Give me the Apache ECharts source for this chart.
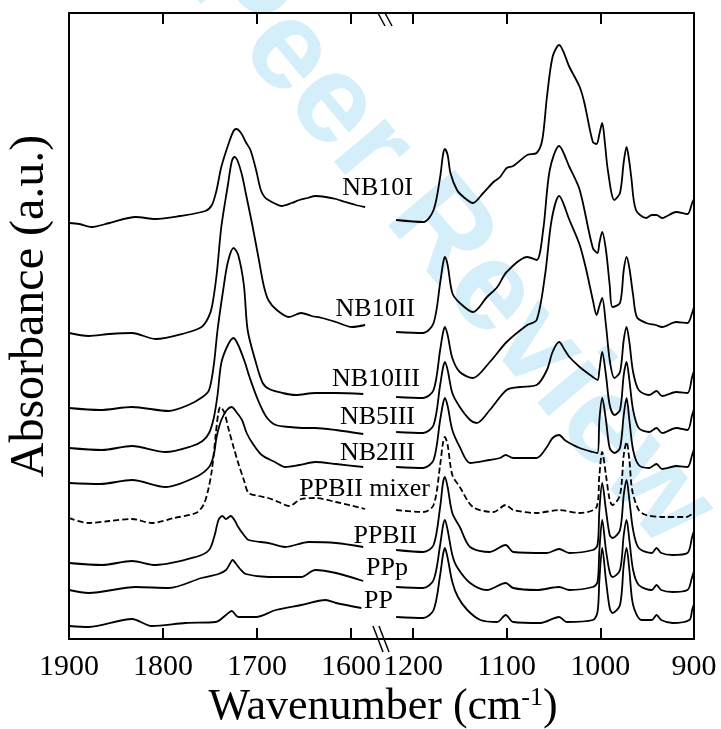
<!DOCTYPE html>
<html>
<head>
<meta charset="utf-8">
<script src="https://cdn.jsdelivr.net/npm/echarts@6/dist/echarts.min.js"></script>
<style>
  html, body { margin: 0; padding: 0; background: #fff; }
  #spectra { width: 721px; height: 729px; }
</style>
</head>
<body>
<div id="spectra"></div>
<script>
// wavenumber (cm-1), absorbance (a.u., stacked)
const nb10iLeft = [[1900,4.16],[1889,4.15],[1876,4.12],[1857,4.16],[1829,4.22],[1808,4.20],[1782,4.23],[1755,4.28],[1748,4.34],[1743,4.49],[1738,4.72],[1730,4.96],[1725,5.08],[1722,5.10],[1717,5.06],[1712,4.97],[1707,4.89],[1701,4.69],[1696,4.49],[1692,4.42],[1688,4.39],[1680,4.35],[1674,4.33],[1663,4.36],[1655,4.39],[1646,4.41],[1638,4.43],[1627,4.42],[1616,4.40],[1606,4.37],[1595,4.34],[1585,4.32]]
const nb10iRight = [[1218,4.19],[1189,4.17],[1178,4.29],[1171,4.62],[1168,4.84],[1166,4.90],[1163,4.84],[1160,4.66],[1153,4.49],[1146,4.42],[1136,4.36],[1125,4.46],[1114,4.57],[1107,4.62],[1100,4.71],[1093,4.73],[1078,4.84],[1068,4.86],[1062,4.99],[1057,5.42],[1051,5.82],[1044,5.94],[1033,5.72],[1022,5.52],[1017,5.36],[1008,4.97],[1004,4.95],[1001,5.05],[998,5.16],[995,4.95],[992,4.69],[985,4.39],[979,4.46],[975,4.77],[972,4.92],[969,4.77],[967,4.62],[962,4.29],[951,4.21],[945,4.24],[940,4.24],[934,4.21],[919,4.27],[907,4.25],[902,4.36],[900,4.40]]

const nb10iiLeft = [[1900,3.06],[1879,3.03],[1857,3.05],[1833,3.06],[1808,3.00],[1776,3.06],[1759,3.12],[1752,3.21],[1748,3.32],[1743,3.64],[1738,4.12],[1731,4.54],[1727,4.77],[1724,4.82],[1721,4.79],[1716,4.64],[1712,4.46],[1705,4.14],[1698,3.79],[1693,3.54],[1688,3.39],[1679,3.29],[1666,3.22],[1653,3.26],[1642,3.23],[1631,3.21],[1616,3.17],[1599,3.12],[1585,3.14]]
const nb10iiRight = [[1218,3.07],[1189,3.06],[1178,3.16],[1171,3.56],[1168,3.75],[1166,3.82],[1163,3.74],[1158,3.46],[1150,3.36],[1136,3.27],[1121,3.42],[1110,3.52],[1100,3.67],[1078,3.82],[1068,3.79],[1061,4.09],[1054,4.69],[1044,4.93],[1033,4.72],[1022,4.49],[1008,3.91],[1003,3.86],[1001,3.96],[998,4.07],[994,3.89],[990,3.54],[987,3.32],[979,3.36],[975,3.69],[972,3.82],[969,3.71],[965,3.44],[961,3.22],[951,3.16],[941,3.14],[934,3.12],[919,3.17],[907,3.16],[902,3.26],[900,3.32]]

const nb10iiiLeft = [[1900,2.31],[1867,2.29],[1833,2.32],[1794,2.28],[1773,2.34],[1758,2.42],[1751,2.49],[1746,2.74],[1742,3.09],[1736,3.49],[1731,3.77],[1725,3.91],[1720,3.84],[1714,3.54],[1710,3.09],[1702,2.79],[1694,2.56],[1687,2.50],[1673,2.46],[1659,2.44],[1638,2.46],[1616,2.46],[1587,2.45]]
const nb10iiiRight = [[1218,2.42],[1189,2.41],[1178,2.49],[1171,2.89],[1168,3.06],[1166,3.12],[1163,3.04],[1158,2.81],[1150,2.67],[1136,2.61],[1118,2.77],[1100,2.97],[1078,3.14],[1068,3.19],[1059,3.64],[1052,4.19],[1044,4.43],[1033,4.19],[1022,3.94],[1015,3.69],[1008,3.39],[1004,3.24],[1001,3.33],[998,3.41],[994,3.14],[990,2.79],[985,2.61],[979,2.67],[975,2.99],[972,3.12],[969,2.97],[965,2.67],[959,2.49],[948,2.44],[940,2.48],[934,2.43],[919,2.47],[907,2.46],[902,2.62],[900,2.68]]

const nb5iiiLeft = [[1900,1.91],[1865,1.89],[1833,1.93],[1797,1.87],[1769,1.93],[1758,1.98],[1751,2.06],[1746,2.21],[1742,2.44],[1738,2.76],[1731,2.94],[1725,3.01],[1720,2.94],[1713,2.77],[1708,2.62],[1699,2.39],[1690,2.22],[1680,2.14],[1665,2.12],[1649,2.11],[1638,2.11],[1616,2.09],[1587,2.05]]
const nb5iiiRight = [[1218,2.07],[1189,2.06],[1178,2.14],[1171,2.54],[1168,2.71],[1166,2.77],[1163,2.69],[1158,2.46],[1150,2.32],[1139,2.19],[1132,2.16],[1118,2.29],[1100,2.49],[1086,2.52],[1068,2.54],[1057,2.69],[1051,2.87],[1044,2.97],[1038,2.89],[1033,2.82],[1022,2.72],[1008,2.62],[1003,2.59],[1001,2.69],[998,2.87],[994,2.64],[990,2.34],[985,2.24],[979,2.29],[975,2.64],[972,2.77],[969,2.59],[965,2.29],[959,2.11],[948,2.07],[940,2.11],[934,2.06],[919,2.11],[907,2.09],[902,2.24],[900,2.30]]

const nb2iiiLeft = [[1900,1.56],[1867,1.55],[1833,1.59],[1797,1.52],[1765,1.62],[1751,1.72],[1746,1.84],[1743,2.02],[1738,2.19],[1732,2.29],[1727,2.32],[1722,2.27],[1716,2.19],[1711,2.06],[1705,1.96],[1695,1.84],[1681,1.77],[1670,1.72],[1655,1.74],[1638,1.77],[1616,1.75],[1587,1.72]]
const nb2iiiRight = [[1218,1.72],[1189,1.71],[1178,1.79],[1171,2.19],[1168,2.35],[1166,2.41],[1163,2.33],[1158,2.09],[1150,1.92],[1139,1.76],[1118,1.79],[1107,1.81],[1101,1.84],[1093,1.81],[1068,1.81],[1057,1.92],[1051,2.01],[1044,2.04],[1038,1.99],[1033,1.96],[1022,1.91],[1008,1.87],[1003,1.86],[1001,2.19],[998,2.41],[994,2.19],[990,1.91],[985,1.86],[979,1.91],[975,2.24],[972,2.41],[969,2.19],[965,1.89],[959,1.74],[948,1.71],[940,1.75],[934,1.70],[919,1.73],[907,1.72],[902,1.84],[900,1.90]]

const mixerLeft = [[1900,1.21],[1879,1.16],[1857,1.18],[1833,1.20],[1812,1.16],[1788,1.21],[1765,1.26],[1757,1.34],[1752,1.49],[1748,1.69],[1744,2.04],[1741,2.27],[1739,2.32],[1735,2.27],[1730,2.09],[1725,1.92],[1720,1.76],[1714,1.59],[1709,1.46],[1698,1.43],[1688,1.41],[1677,1.37],[1666,1.33],[1653,1.40],[1638,1.41],[1616,1.37],[1585,1.30]]
const mixerRight = [[1218,1.29],[1189,1.27],[1178,1.34],[1171,1.74],[1168,1.96],[1166,2.02],[1163,1.94],[1158,1.64],[1150,1.52],[1136,1.32],[1114,1.27],[1101,1.34],[1093,1.29],[1068,1.26],[1044,1.29],[1022,1.26],[1004,1.32],[1001,1.64],[998,1.87],[994,1.64],[990,1.39],[987,1.34],[979,1.44],[975,1.84],[972,1.97],[969,1.79],[966,1.49],[959,1.29],[951,1.24],[934,1.22],[908,1.22],[900,1.27]]

const ppbiiLeft = [[1900,0.76],[1865,0.74],[1833,0.78],[1808,0.74],[1765,0.82],[1751,0.89],[1745,1.04],[1741,1.19],[1737,1.23],[1733,1.20],[1728,1.23],[1724,1.19],[1720,1.12],[1714,1.04],[1709,0.99],[1688,0.96],[1670,0.92],[1645,0.97],[1616,0.96],[1587,0.92]]
const ppbiiRight = [[1218,0.89],[1189,0.87],[1178,0.94],[1171,1.32],[1168,1.56],[1166,1.62],[1163,1.52],[1158,1.26],[1150,1.12],[1139,0.92],[1118,0.87],[1101,0.94],[1093,0.87],[1057,0.86],[1044,0.90],[1033,0.86],[1008,0.89],[1003,0.94],[1001,1.29],[998,1.56],[994,1.29],[990,1.04],[987,1.01],[979,1.09],[975,1.44],[972,1.59],[969,1.39],[965,1.09],[959,0.91],[945,0.86],[940,0.91],[935,0.86],[923,0.84],[907,0.86],[902,1.02],[900,1.08]]

const pppLeft = [[1900,0.49],[1879,0.46],[1829,0.52],[1794,0.51],[1759,0.61],[1741,0.65],[1733,0.69],[1729,0.75],[1726,0.79],[1723,0.76],[1718,0.70],[1712,0.65],[1688,0.62],[1653,0.62],[1638,0.69],[1616,0.66],[1587,0.58]]
const pppRight = [[1218,0.52],[1189,0.51],[1178,0.59],[1171,0.94],[1168,1.13],[1166,1.19],[1163,1.09],[1158,0.84],[1153,0.72],[1139,0.56],[1121,0.49],[1101,0.56],[1093,0.51],[1068,0.49],[1044,0.52],[1033,0.49],[1008,0.52],[1003,0.57],[1001,0.89],[998,1.19],[994,0.89],[990,0.67],[987,0.62],[979,0.69],[975,1.04],[972,1.19],[969,0.99],[965,0.69],[959,0.54],[945,0.49],[940,0.54],[935,0.49],[923,0.47],[907,0.49],[902,0.62],[900,0.68]]

const ppLeft = [[1900,0.13],[1879,0.12],[1833,0.20],[1812,0.13],[1776,0.16],[1744,0.17],[1733,0.24],[1727,0.28],[1720,0.22],[1701,0.22],[1680,0.29],[1653,0.34],[1627,0.39],[1616,0.36],[1589,0.31]]
const ppRight = [[1218,0.22],[1189,0.21],[1178,0.29],[1171,0.64],[1168,0.84],[1166,0.91],[1163,0.81],[1158,0.57],[1152,0.42],[1142,0.29],[1128,0.19],[1110,0.17],[1101,0.24],[1093,0.17],[1064,0.16],[1044,0.22],[1036,0.17],[1008,0.19],[1003,0.27],[1001,0.59],[998,0.91],[994,0.59],[990,0.31],[987,0.26],[979,0.34],[975,0.74],[972,0.91],[969,0.69],[965,0.34],[956,0.19],[945,0.19],[940,0.24],[935,0.19],[923,0.16],[905,0.19],[902,0.29],[900,0.35]]

const sampleNames = ['NB10I', 'NB10II', 'NB10III', 'NB5III', 'NB2III', 'PPBII mixer', 'PPBII', 'PPp', 'PP']
const leftParts = [nb10iLeft, nb10iiLeft, nb10iiiLeft, nb5iiiLeft, nb2iiiLeft, mixerLeft, ppbiiLeft, pppLeft, ppLeft]
const rightParts = [nb10iRight, nb10iiRight, nb10iiiRight, nb5iiiRight, nb2iiiRight, mixerRight, ppbiiRight, pppRight, ppRight]

const ticksLeft = [1900, 1800, 1700, 1600]
const ticksRight = [1200, 1100, 1000, 900]

// label anchor: right edge x, middle y (px)
const labelAt = [[413, 188], [415, 309], [420, 379], [415, 417], [415, 453], [430, 489], [417, 536], [408, 568], [393, 601]]

const serif = '"Liberation Serif", "Times New Roman", serif'

var myChart = echarts.init(document.getElementById('spectra'))

function xAxisFor (grid, pos, min, max, ticks) {
  return {
    gridIndex: grid,
    type: 'value',
    position: pos,
    min: min,
    max: max,
    inverse: true,
    axisLine: { onZero: false, lineStyle: { color: '#000', width: 2 } },
    axisTick: { inside: true, length: 11, customValues: ticks, lineStyle: { color: '#000', width: 2 } },
    axisLabel: {
      show: pos === 'bottom',
      customValues: ticks,
      formatter: function (v) { return String(v) },
      margin: 13,
      color: '#000',
      fontSize: 30,
      fontFamily: serif,
    },
    splitLine: { show: false },
  }
}

function yAxisFor (grid, pos) {
  return {
    gridIndex: grid,
    type: 'value',
    position: pos,
    min: 0,
    max: 6.26,
    axisLine: { show: true, onZero: false, lineStyle: { color: '#000', width: 2 } },
    axisTick: { show: false },
    axisLabel: { show: false },
    splitLine: { show: false },
  }
}

var series = []
sampleNames.forEach(function (name, i) {
  var dashed = name === 'PPBII mixer'
  var style = { color: '#000', width: 1.8, type: dashed ? [6, 3] : 'solid' }
  series.push({
    name: name, type: 'line', xAxisIndex: 0, yAxisIndex: 0,
    data: leftParts[i], showSymbol: false, smooth: 0.3, lineStyle: style, z: 3,
  })
  series.push({
    name: name, type: 'line', xAxisIndex: 1, yAxisIndex: 1,
    data: rightParts[i], showSymbol: false, smooth: 0.3, lineStyle: style, z: 3,
  })
})

var graphics = [
  {
    type: 'text', x: 450, y: 245, rotation: -0.87, z: 0, silent: true,
    style: {
      text: 'Peer Review', fill: '#d4eefa', align: 'center', verticalAlign: 'middle',
      font: 'bold 126px "Liberation Sans", Arial, sans-serif',
    },
  },
  {
    type: 'text', x: 30, y: 306, rotation: Math.PI / 2, z: 10,
    style: { text: 'Absorbance (a.u.)', fill: '#000', align: 'center', verticalAlign: 'middle', font: '48px ' + serif },
  },
  {
    type: 'text', x: 383, y: 707, z: 10,
    style: {
      text: '{a|Wavenumber (cm}{s|-1}{a|)}',
      align: 'center', verticalAlign: 'middle',
      rich: {
        a: { fontSize: 44, fontFamily: serif, fill: '#000', color: '#000' },
        s: { fontSize: 26, fontFamily: serif, fill: '#000', color: '#000', verticalAlign: 'top' },
      },
    },
  },
  // axis break marks
  { type: 'line', shape: { x1: 373, y1: 626, x2: 383, y2: 652 }, style: { stroke: '#000', lineWidth: 1.5 }, z: 10 },
  { type: 'line', shape: { x1: 379, y1: 626, x2: 389, y2: 652 }, style: { stroke: '#000', lineWidth: 1.5 }, z: 10 },
  { type: 'line', shape: { x1: 378, y1: 13, x2: 385, y2: 26 }, style: { stroke: '#000', lineWidth: 1.5 }, z: 10 },
  { type: 'line', shape: { x1: 385, y1: 13, x2: 392, y2: 26 }, style: { stroke: '#000', lineWidth: 1.5 }, z: 10 },
]

sampleNames.forEach(function (name, i) {
  graphics.push({
    type: 'text', x: labelAt[i][0], y: labelAt[i][1], z: 10,
    style: { text: name, fill: '#000', align: 'right', verticalAlign: 'middle', font: '26px ' + serif },
  })
})

let option = {
  animation: false,
  backgroundColor: '#fff',
  grid: [
    { left: 69, top: 13, width: 314, height: 626 },
    { left: 383, top: 13, width: 311, height: 626 },
  ],
  xAxis: [
    xAxisFor(0, 'bottom', 1566, 1900, ticksLeft),
    xAxisFor(1, 'bottom', 900, 1232, ticksRight),
    xAxisFor(0, 'top', 1566, 1900, ticksLeft),
    xAxisFor(1, 'top', 900, 1232, ticksRight),
  ],
  yAxis: [yAxisFor(0, 'left'), yAxisFor(1, 'right')],
  graphic: graphics,
  series: series,
}
myChart.setOption(option)
</script>
</body>
</html>
